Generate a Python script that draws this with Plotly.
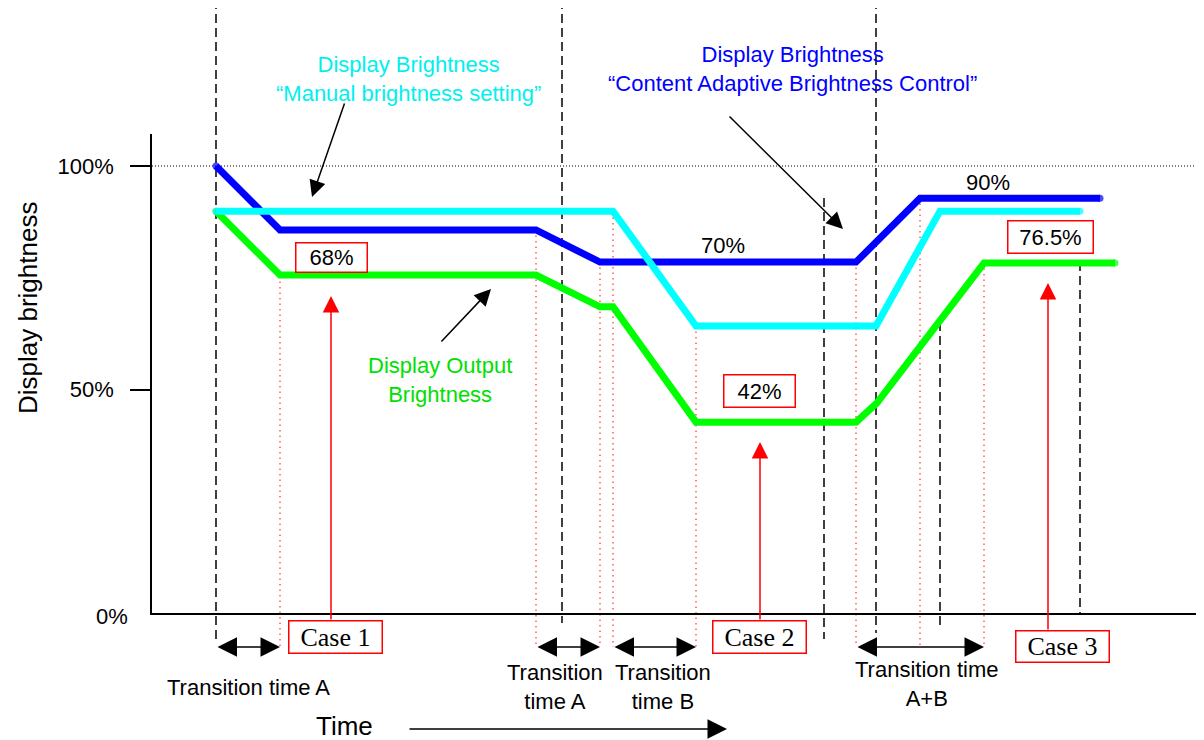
import plotly.graph_objects as go

# ----------------------------------------------
# brightness curves (time in arbitrary units, brightness in %)
blue_time = [216, 280, 536, 600, 856, 920, 1100]
blue_pct = [100, 85.7, 85.7, 78.5, 78.5, 92.8, 92.8]

cyan_time = [216, 613, 696, 876, 940, 1080]
cyan_pct = [89.9, 89.9, 64.2, 64.2, 89.9, 89.9]

green_time = [216, 280, 536, 600, 613, 696, 856, 877, 984, 1115]
green_pct = [89.9, 75.6, 75.6, 68.5, 68.5, 42.7, 42.7, 47.0, 78.3, 78.3]

y_ticks = [50, 100]
y_tick_labels = ['50%', '100%']

# event markers on the time axis
dashed_times = [216, 562, 876, 824, 940, 1080]
dotted_times = [280, 536, 600, 613, 696, 856, 920, 984]

color_blue = '#0000ff'
color_cyan = '#00ffff'
color_green = '#00ff00'
color_red = '#ff0000'
sans = 'Liberation Sans'
serif = 'Liberation Serif'

# page offset of the html body (8px default margin)
OFF = 8
# plot area in page pixels
PX_LEFT, PX_RIGHT, PX_TOP, PX_BOTTOM = 152, 1204, 134, 613
PX_100 = 166
Y_MAX = 100 * (PX_BOTTOM - PX_TOP) / (PX_BOTTOM - PX_100)
FIG_W, FIG_H = 1204 - OFF, 740 - OFF


# ----------------------------------------------
def py(px):
    """page pixel row -> paper y"""
    return (PX_BOTTOM - px) / (PX_BOTTOM - PX_TOP)


def label(fig, x, y_px, text, size=22, color='black', family=sans,
          box=False, width=None, height=None):
    kw = {}
    if box:
        kw = dict(bordercolor=color_red, borderwidth=1.5, borderpad=1,
                  bgcolor='white', width=width, height=height)
    fig.add_annotation(x=x, y=py(y_px), xref='x', yref='paper', text=text,
                       showarrow=False, xanchor='center', yanchor='middle',
                       font=dict(family=family, size=size, color=color), **kw)


def arrow(fig, tip_x, tip_y, tail_x, tail_y, color='black', both=False, size=2.2):
    fig.add_annotation(x=tip_x, y=py(tip_y), xref='x', yref='paper',
                       ax=tail_x - tip_x, ay=tail_y - tip_y, text='',
                       font=dict(size=1), showarrow=True,
                       arrowhead=2, arrowsize=size, arrowwidth=1.5,
                       startarrowhead=2, startarrowsize=size,
                       arrowside='end+start' if both else 'end',
                       arrowcolor=color)


fig = go.Figure()

for t, p, c in [(blue_time, blue_pct, color_blue),
                (green_time, green_pct, color_green),
                (cyan_time, cyan_pct, color_cyan)]:
    sizes = [7] + [0] * (len(t) - 2) + [7]
    fig.add_trace(go.Scatter(x=t, y=p, mode='lines+markers',
                             line=dict(color=c, width=7),
                             marker=dict(color=c, size=sizes, line_width=0),
                             hoverinfo='skip', cliponaxis=False))

# 100% reference line
fig.add_shape(type='line', xref='x', yref='y', x0=PX_LEFT, x1=PX_RIGHT,
              y0=100, y1=100, layer='below',
              line=dict(color='black', width=1, dash='1px,2px'))

# black dashed verticals (top px, bottom px)
dashed_span = [(0, 642), (0, 623), (0, 633), (198, 639), (322, 626), (262, 613)]
for t, (top, bot) in zip(dashed_times, dashed_span):
    fig.add_shape(type='line', xref='x', yref='paper', x0=t, x1=t,
                  y0=py(top), y1=py(bot), layer='below',
                  line=dict(color='black', width=1.5, dash='9px,5px'))

# red dotted verticals
dotted_top = [276, 230, 262, 212, 326, 262, 198, 263]
for t, top in zip(dotted_times, dotted_top):
    fig.add_shape(type='line', xref='x', yref='paper', x0=t, x1=t,
                  y0=py(top), y1=py(647), layer='below',
                  line=dict(color='rgba(255,30,30,0.9)', width=1.2, dash='1.5px,4px'))

# curve labels
label(fig, 408, 79, 'Display Brightness<br>“Manual brightness setting”', color='#00f0f0')
label(fig, 792, 69, 'Display Brightness<br>“Content Adaptive Brightness Control”', color=color_blue)
label(fig, 440, 380, 'Display Output<br>Brightness', color='#00e000')
arrow(fig, 312, 197, 345, 102)
arrow(fig, 843, 229, 728, 115)
arrow(fig, 491, 289, 440, 343)

# level labels
label(fig, 723, 245, '70%')
label(fig, 988, 182, '90%')
label(fig, 331, 257.5, '68%', box=True, width=68, height=26)
label(fig, 759.5, 391, '42%', box=True, width=68, height=29)
label(fig, 1050.8, 237, '76.5%', box=True, width=82, height=29)

# cases
label(fig, 335.7, 637, 'Case 1', size=26, family=serif, box=True, width=90, height=29)
label(fig, 759.5, 637, 'Case 2', size=26, family=serif, box=True, width=90, height=29)
label(fig, 1062.7, 646.5, 'Case 3', size=26, family=serif, box=True, width=90, height=28)
arrow(fig, 331, 296, 331, 621, color=color_red)
arrow(fig, 760, 442, 760, 621, color=color_red)
arrow(fig, 1048, 283, 1048, 631, color=color_red)

# transition times
arrow(fig, 280, 647, 216, 647, both=True, size=2.6)
arrow(fig, 600, 647, 536, 647, both=True, size=2.6)
arrow(fig, 696, 647, 613, 647, both=True, size=2.6)
arrow(fig, 984, 647, 856, 647, both=True, size=2.6)
label(fig, 248, 687, 'Transition time A')
label(fig, 555, 687, 'Transition<br>time A')
label(fig, 663, 687, 'Transition<br>time B')
label(fig, 926, 684, 'Transition time<br>A+B')

# time axis arrow
label(fig, 344, 726, 'Time', size=26)
arrow(fig, 727, 729, 408, 729, size=2.6)

# axis texts
fig.add_annotation(x=(28 - PX_LEFT) / (PX_RIGHT - PX_LEFT), y=py(308),
                   xref='paper', yref='paper', text='Display brightness',
                   textangle=-90, showarrow=False, xanchor='center', yanchor='middle',
                   font=dict(family=sans, size=26, color='black'))
fig.add_annotation(x=(130 - PX_LEFT) / (PX_RIGHT - PX_LEFT), y=py(616),
                   xref='paper', yref='paper', text='0%', showarrow=False,
                   xanchor='right', yanchor='middle',
                   font=dict(family=sans, size=22, color='black'))

fig.update_layout(
    width=FIG_W, height=FIG_H,
    margin=dict(l=PX_LEFT - OFF, r=1204 - PX_RIGHT, t=PX_TOP - OFF, b=740 - PX_BOTTOM),
    plot_bgcolor='white', paper_bgcolor='white',
    showlegend=False,
    font=dict(family=sans, color='black'),
    xaxis=dict(range=[PX_LEFT, PX_RIGHT], showline=True, linecolor='black',
               linewidth=1.5, showgrid=False, zeroline=False,
               showticklabels=False, ticks=''),
    yaxis=dict(range=[0, Y_MAX], tickvals=y_ticks, ticktext=y_tick_labels,
               ticks='outside', ticklen=20, tickwidth=1.5, tickcolor='black',
               ticklabelstandoff=12, tickfont=dict(size=22),
               showline=True, linecolor='black', linewidth=1.5,
               showgrid=False, zeroline=False))

fig.write_html("out.html")
